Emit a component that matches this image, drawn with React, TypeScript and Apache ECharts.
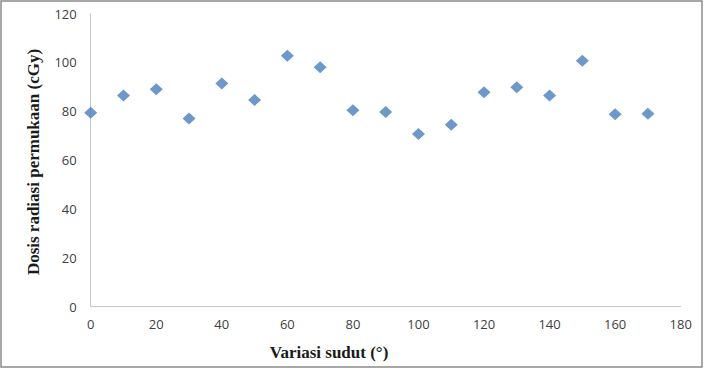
import React, { useEffect, useRef } from "react";
import * as echarts from "echarts";

const angles: number[] = [0, 10, 20, 30, 40, 50, 60, 70, 80, 90, 100, 110, 120, 130, 140, 150, 160, 170];
const doses: number[] = [79.4, 86.4, 89.0, 77.0, 91.4, 84.6, 102.7, 98.0, 80.4, 79.7, 70.7, 74.5, 87.8, 89.8, 86.4, 100.7, 78.8, 79.0];
const xTitle = "Variasi sudut (°)";
const yTitle = "Dosis radiasi permukaan (cGy)";

export default function App() {
  const ref = useRef<HTMLDivElement>(null);
  useEffect(() => {
    if (!ref.current) return;
    const chart = echarts.init(ref.current, undefined, { renderer: "svg" });
    const labelStyle = {
      color: "#404040",
      fontFamily: "Open Sans",
      fontSize: 13,
    };
    chart.setOption({
      animation: false,
      backgroundColor: "#ffffff",
      grid: { left: 90.7, right: 31.3, top: 13.5, bottom: 63.3 },
      xAxis: {
        type: "value",
        min: 0,
        max: 180,
        interval: 20,
        axisLine: { show: true, lineStyle: { color: "#c8c8c8", width: 1 } },
        axisTick: { show: false },
        splitLine: { show: false },
        axisLabel: { ...labelStyle, margin: 11 },
      },
      yAxis: {
        type: "value",
        min: 0,
        max: 120,
        interval: 20,
        axisLine: { show: true, lineStyle: { color: "#c8c8c8", width: 1 } },
        axisTick: { show: false },
        splitLine: { show: false },
        axisLabel: { ...labelStyle, margin: 14 },
      },
      series: [
        {
          type: "scatter",
          symbol: "diamond",
          symbolSize: [13, 12],
          itemStyle: { color: "#4a7ebb" },
          data: angles.map((a, i) => [a, doses[i]]),
        },
      ],
      graphic: [
        {
          type: "rect",
          shape: { x: 1, y: 1, width: 701, height: 366 },
          style: { fill: "none", stroke: "#8a8a8a", lineWidth: 1.5 },
          silent: true,
        },
        {
          type: "text",
          x: 329,
          y: 352,
          style: {
            text: xTitle,
            font: "bold 17px 'Liberation Serif'",
            fill: "#1a1a1a",
            align: "center",
            verticalAlign: "middle",
          },
        },
        {
          type: "text",
          x: 33,
          y: 162,
          rotation: Math.PI / 2,
          style: {
            text: yTitle,
            font: "bold 17px 'Liberation Serif'",
            fill: "#1a1a1a",
            align: "center",
            verticalAlign: "middle",
          },
        },
      ],
    });
    return () => chart.dispose();
  }, []);
  return (
    <div
      ref={ref}
      style={{ position: "absolute", left: 0, top: 0, width: 712, height: 370 }}
    />
  );
}
